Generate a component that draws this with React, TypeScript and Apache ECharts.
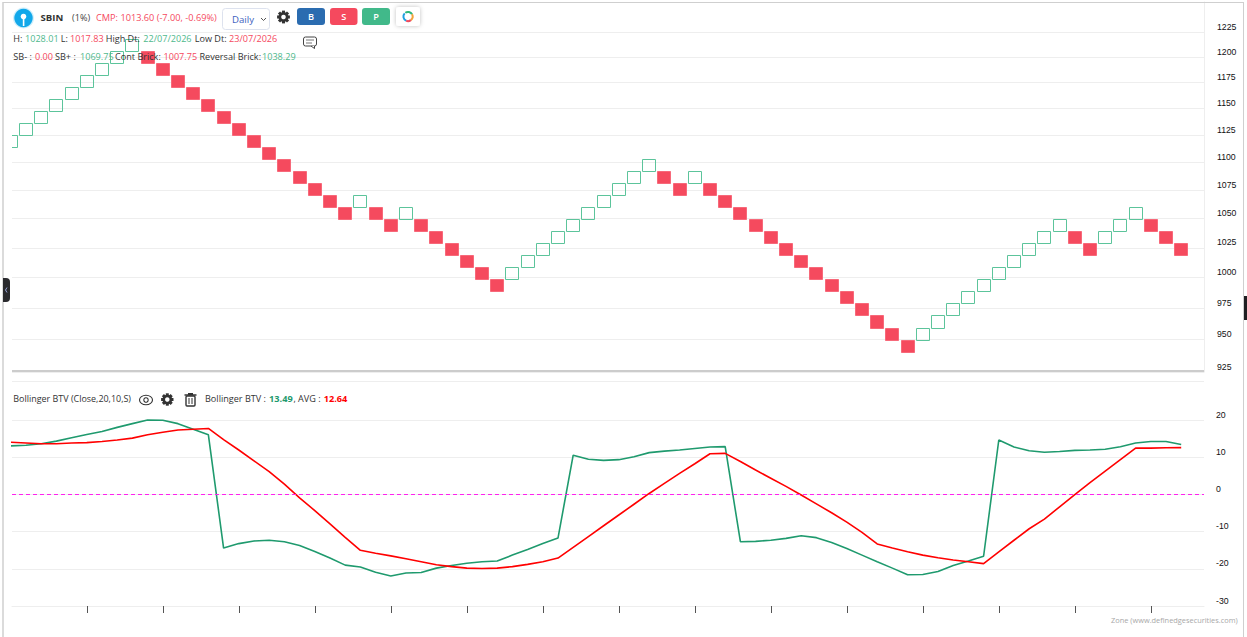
import React, { useEffect, useRef } from "react";
import * as echarts from "echarts";

// Renko bricks: lower and upper price of each brick, and direction (1 = up, 0 = down)
const brickLow = [
  1113.18, 1124.32, 1135.56, 1146.92, 1158.39, 1169.97, 1181.67, 1193.49, 1205.42, 1193.49,
  1181.67, 1169.97, 1158.39, 1146.92, 1135.56, 1124.32, 1113.18, 1102.16, 1091.25, 1080.45,
  1069.75, 1059.16, 1048.67, 1059.16, 1048.67, 1038.29, 1048.67, 1038.29, 1028.01, 1017.83,
  1007.75, 997.77, 987.9, 997.77, 1007.75, 1017.83, 1028.01, 1038.29, 1048.67, 1059.16,
  1069.75, 1080.45, 1091.25, 1080.45, 1069.75, 1080.45, 1069.75, 1059.16, 1048.67, 1038.29,
  1028.01, 1017.83, 1007.75, 997.77, 987.9, 978.11, 968.43, 958.84, 949.35, 939.95,
  949.35, 958.84, 968.43, 978.11, 987.9, 997.77, 1007.75, 1017.83, 1028.01, 1038.29,
  1028.01, 1017.83, 1028.01, 1038.29, 1048.67, 1038.29, 1028.01, 1017.83,
];
const brickHigh = [
  1124.32, 1135.56, 1146.92, 1158.39, 1169.97, 1181.67, 1193.49, 1205.42, 1217.48, 1205.42,
  1193.49, 1181.67, 1169.97, 1158.39, 1146.92, 1135.56, 1124.32, 1113.18, 1102.16, 1091.25,
  1080.45, 1069.75, 1059.16, 1069.75, 1059.16, 1048.67, 1059.16, 1048.67, 1038.29, 1028.01,
  1017.83, 1007.75, 997.77, 1007.75, 1017.83, 1028.01, 1038.29, 1048.67, 1059.16, 1069.75,
  1080.45, 1091.25, 1102.16, 1091.25, 1080.45, 1091.25, 1080.45, 1069.75, 1059.16, 1048.67,
  1038.29, 1028.01, 1017.83, 1007.75, 997.77, 987.9, 978.11, 968.43, 958.84, 949.35,
  958.84, 968.43, 978.11, 987.9, 997.77, 1007.75, 1017.83, 1028.01, 1038.29, 1048.67,
  1038.29, 1028.01, 1038.29, 1048.67, 1059.16, 1048.67, 1038.29, 1028.01,
];
const brickUp = [
  1, 1, 1, 1, 1, 1, 1, 1, 1, 0, 0, 0, 0, 0, 0, 0, 0, 0, 0, 0, 0, 0, 0, 1, 0, 0, 1, 0, 0, 0,
  0, 0, 0, 1, 1, 1, 1, 1, 1, 1, 1, 1, 1, 0, 0, 1, 0, 0, 0, 0, 0, 0, 0, 0, 0, 0, 0, 0, 0, 0,
  1, 1, 1, 1, 1, 1, 1, 1, 1, 1, 0, 0, 1, 1, 1, 0, 0, 0,
];

// Bollinger BTV and its average, one value per brick
const btv = [
  13.1, 13.3, 13.7, 14.4, 15.3, 16.2, 17.0, 18.1, 19.1, 20.1, 20.0, 19.1, 17.6, 16.1, -14.4, -13.2, -12.5, -12.3, -12.7, -13.7,
  -15.3, -17.1, -19.0, -19.5, -20.9, -21.9, -21.1, -21.0, -19.8, -19.1, -18.5, -18.1, -17.9, -16.3, -14.8, -13.2, -11.7, 10.6, 9.5, 9.2,
  9.4, 10.2, 11.3, 11.7, 12.0, 12.4, 12.8, 12.9, -12.7, -12.6, -12.3, -11.8, -11.1, -11.6, -12.9, -14.5, -16.3, -18.1, -19.8, -21.6,
  -21.5, -20.7, -19.1, -17.9, -16.6, 14.7, 12.8, 11.8, 11.4, 11.6, 11.9, 12.0, 12.2, 12.9, 13.9, 14.3, 14.3, 13.49,
];
const btvAvg = [
  14.1, 13.9, 13.7, 13.7, 13.9, 14.0, 14.3, 14.7, 15.2, 16.1, 16.8, 17.4, 17.6, 17.8, 14.8, 12.0, 9.1, 6.2, 2.8, -0.9,
  -4.3, -7.9, -11.5, -15.0, -15.8, -16.5, -17.3, -18.1, -18.9, -19.4, -19.8, -19.9, -19.8, -19.4, -18.8, -18.1, -17.1, -14.2, -11.3, -8.4,
  -5.5, -2.6, 0.3, 3.0, 5.7, 8.3, 11.0, 11.1, 8.9, 6.6, 4.4, 2.2, -0.1, -2.5, -4.9, -7.4, -10.2, -13.3, -14.4, -15.4,
  -16.3, -17.0, -17.6, -18.1, -18.6, -15.4, -12.3, -9.2, -6.6, -3.3, 0.0, 3.2, 6.3, 9.4, 12.5, 12.5, 12.6, 12.64,
];

const priceTicks = [925, 950, 975, 1000, 1025, 1050, 1075, 1100, 1125, 1150, 1175, 1200, 1225];
const btvTicks = [-30, -20, -10, 0, 10, 20];
const btvGrid = [-30, -20, -10, 0, 10, 20, 30.5];
const timeTicks = [5, 10, 15, 20, 25, 30, 35, 40, 45, 50, 55, 60, 65, 70, 75];
const referenceLevel = 0;

const UI_FONT = "'Open Sans', sans-serif";
const GREEN = "#4fb98d";
const RED = "#f5495e";
const INK = "#333333";

function txt(text: string, x: number, y: number, fill = INK, fontSize = 9.1, fontWeight: any = 400, align = "left") {
  return {
    type: "text",
    x,
    y,
    z: 100,
    silent: true,
    style: { text, fill, fontSize, fontWeight, fontFamily: UI_FONT, verticalAlign: "middle", align },
  };
}

function gear(cx: number, cy: number, r: number, fill = "#333333") {
  const teeth: any[] = [];
  for (let i = 0; i < 8; i++) {
    teeth.push({
      type: "rect",
      rotation: (i * Math.PI) / 4,
      shape: { x: -r * 0.24, y: -r, width: r * 0.48, height: r * 0.45 },
      style: { fill },
    });
  }
  return {
    type: "group",
    x: cx,
    y: cy,
    z: 100,
    silent: true,
    children: [
      { type: "ring", shape: { cx: 0, cy: 0, r: r * 0.78, r0: r * 0.36 }, style: { fill } },
      ...teeth,
    ],
  };
}

function buildGraphics() {
  const g: any[] = [];
  const s = (type: string, shape: any, style: any, extra: any = {}) => ({ type, shape, style, z: 100, silent: true, ...extra });

  // frame
  g.push(s("line", { x1: 3, y1: 2.5, x2: 1243, y2: 2.5 }, { stroke: "#cfcfcf", lineWidth: 1 }));
  g.push(s("line", { x1: 3, y1: 2, x2: 3, y2: 637 }, { stroke: "#cfcfcf", lineWidth: 1.5 }));
  g.push(s("line", { x1: 1243.5, y1: 2, x2: 1243.5, y2: 637 }, { stroke: "#cfcfcf", lineWidth: 1 }));
  g.push(s("rect", { x: 3, y: 278, width: 7, height: 24, r: [0, 4, 4, 0] }, { fill: "#2a2a2e" }));
  g.push(s("polyline", { points: [[7, 287.5], [5.5, 290], [7, 292.5]] }, { stroke: "#9aa5d8", lineWidth: 1, fill: "none" }));
  g.push(s("rect", { x: 1244, y: 296, width: 3, height: 24 }, { fill: "#1f1f22" }));
  // divider between the two panes
  g.push(s("line", { x1: 12, y1: 371, x2: 1204, y2: 371 }, { stroke: "#cccccc", lineWidth: 2 }));

  // logo
  g.push(s("circle", { cx: 23.5, cy: 18, r: 10.5 }, { fill: "#cdeefb" }));
  g.push(s("circle", { cx: 23.5, cy: 18, r: 9.2 }, { fill: "#12a8ea" }));
  g.push(s("circle", { cx: 23.5, cy: 16.5, r: 2.8 }, { fill: "#ffffff" }));
  g.push(s("rect", { x: 22.8, y: 17, width: 1.6, height: 9 }, { fill: "#ffffff" }));

  g.push(txt("SBIN", 40.5, 17.5, "#333333", 9.6, 700));
  g.push(txt("(1%)", 72, 17, "#444444"));
  g.push(txt("CMP: 1013.60 (-7.00, -0.69%)", 96, 17, RED, 9.2));

  // period selector
  g.push(s("rect", { x: 222.5, y: 8.5, width: 47, height: 21, r: 3 }, { fill: "#ffffff", stroke: "#dde2ee", lineWidth: 1 }));
  g.push(txt("Daily", 232, 19.5, "#3e5fc0", 9.6));
  g.push(s("polyline", { points: [[261, 18], [263.5, 20.5], [266, 18]] }, { stroke: "#555555", lineWidth: 1, fill: "none" }));
  g.push(gear(283.5, 17, 6.4));

  // action buttons
  g.push(s("rect", { x: 297, y: 8, width: 28, height: 17, r: 3 }, { fill: "#2b6cb0" }));
  g.push(s("rect", { x: 330, y: 8, width: 27.5, height: 17, r: 3 }, { fill: RED }));
  g.push(s("rect", { x: 362, y: 8, width: 28, height: 17, r: 3 }, { fill: "#41b98a" }));
  g.push(txt("B", 311, 16.5, "#ffffff", 9.2, 600, "center"));
  g.push(txt("S", 343.7, 16.5, "#ffffff", 9.2, 600, "center"));
  g.push(txt("P", 376, 16.5, "#ffffff", 9.2, 600, "center"));
  g.push(
    s("rect", { x: 396, y: 7, width: 24, height: 19, r: 3 }, { fill: "#ffffff", shadowBlur: 4, shadowColor: "rgba(0,0,0,0.25)" })
  );
  const ring: [number, number, string][] = [
    [-2.2, -0.5, "#2fb67c"],
    [-0.5, 0.9, "#f2a33a"],
    [0.9, 2.0, "#ef4b5e"],
    [2.0, 3.9, "#1e9fe0"],
  ];
  ring.forEach(([a, b, c]) =>
    g.push(s("arc", { cx: 408, cy: 16.5, r: 4.6, startAngle: a, endAngle: b }, { stroke: c, lineWidth: 2, fill: "none" }))
  );

  // price summary rows
  const row1: [string, number, string][] = [
    ["H:", 13.3, INK], ["1028.01", 25, GREEN], ["L:", 60.7, INK], ["1017.83", 70, RED],
    ["High Dt:", 105.7, INK], ["22/07/2026", 143.3, GREEN], ["Low Dt:", 194.7, INK], ["23/07/2026", 229, RED],
  ];
  row1.forEach(([t, x, c]) => g.push(txt(t, x, 38, c)));
  const row2: [string, number, string][] = [
    ["SB- :", 13.3, INK], ["0.00", 35, RED], ["SB+ :", 55, INK], ["1069.75", 80, GREEN],
    ["Cont Brick:", 115, INK], ["1007.75", 163.5, RED], ["Reversal Brick:", 199.5, INK], ["1038.29", 262, GREEN],
  ];
  row2.forEach(([t, x, c]) => g.push(txt(t, x, 56.5, c)));

  // comment icon
  g.push(s("rect", { x: 303.5, y: 37, width: 13, height: 9, r: 2 }, { fill: "#ffffff", stroke: "#444444", lineWidth: 1 }));
  g.push(s("polyline", { points: [[311, 46], [314.5, 48.5], [314.5, 46]] }, { stroke: "#444444", lineWidth: 1, fill: "#ffffff" }));
  g.push(s("line", { x1: 306, y1: 40, x2: 314, y2: 40 }, { stroke: "#777777", lineWidth: 1 }));
  g.push(s("line", { x1: 306, y1: 43, x2: 312, y2: 43 }, { stroke: "#777777", lineWidth: 1 }));

  // indicator header
  g.push(txt("Bollinger BTV (Close,20,10,S)", 13.3, 398.5, INK, 8.95));
  g.push(s("ellipse", { cx: 146, cy: 400, rx: 6.5, ry: 4.8 }, { fill: "#ffffff", stroke: "#333333", lineWidth: 1.1 }));
  g.push(s("circle", { cx: 146, cy: 400, r: 2.2 }, { fill: "#ffffff", stroke: "#333333", lineWidth: 1.1 }));
  g.push(gear(167.3, 399.5, 6.2));
  g.push(s("rect", { x: 186, y: 396, width: 9, height: 10, r: 1 }, { fill: "#ffffff", stroke: "#333333", lineWidth: 1.4 }));
  g.push(s("line", { x1: 184.5, y1: 395, x2: 196.5, y2: 395 }, { stroke: "#333333", lineWidth: 1.5 }));
  g.push(s("rect", { x: 188, y: 393, width: 5, height: 2 }, { fill: "#333333" }));
  g.push(s("line", { x1: 189, y1: 398, x2: 189, y2: 404 }, { stroke: "#333333", lineWidth: 1 }));
  g.push(s("line", { x1: 192, y1: 398, x2: 192, y2: 404 }, { stroke: "#333333", lineWidth: 1 }));
  g.push(txt("Bollinger BTV :", 205, 398.5));
  g.push(txt("13.49", 269, 398.5, "#1f9a6e", 9.2, 700));
  g.push(txt(",", 293.5, 398.5));
  g.push(txt("AVG :", 298, 398.5));
  g.push(txt("12.64", 323.7, 398.5, "#ff0000", 9.2, 700));

  g.push(txt("Zone (www.definedgesecurities.com)", 1111, 619.5, "#a8a8a8", 7.4));
  return g;
}

function renderBrick(params: any, api: any) {
  const i = api.value(0);
  const up = api.value(3) === 1;
  const top = api.coord([i, api.value(2)]);
  const bottom = api.coord([i, api.value(1)]);
  const band = api.size([1, 0])[0];
  const half = band * 0.465;
  const x0 = Math.round(top[0] - half) + 0.5;
  const x1 = Math.round(top[0] + half) - 0.5;
  const y0 = Math.round(top[1]) - 0.5;
  const y1 = Math.round(bottom[1]) - 0.5;
  return {
    type: "rect",
    shape: { x: x0, y: y0, width: x1 - x0, height: y1 - y0 },
    style: up
      ? { fill: "none", stroke: "#5cc49b", lineWidth: 1 }
      : { fill: "#f54a5e", stroke: "#f7697a", lineWidth: 1 },
  };
}

export default function App() {
  const ref = useRef<HTMLDivElement>(null);
  useEffect(() => {
    const chart = echarts.init(ref.current!, null, { renderer: "svg" });
    const xIndex = brickLow.map((_, i) => i);
    const axisFont = { fontFamily: "'Liberation Sans', Arial, sans-serif", fontSize: 8.7, color: "#111111" };
    chart.setOption({
      animation: false,
      backgroundColor: "#ffffff",
      grid: [
        { left: 12, width: 1192, top: 2, height: 370 },
        { left: 12, width: 1192, top: 381.3, height: 224.7 },
      ],
      xAxis: [
        {
          type: "value",
          gridIndex: 0,
          min: 0.08,
          max: 78.5,
          axisLine: { show: false },
          axisTick: { show: false },
          axisLabel: { show: false },
          splitLine: { show: false },
        },
        {
          type: "value",
          gridIndex: 1,
          min: 0.08,
          max: 78.5,
          axisLine: { show: true, onZero: false, lineStyle: { color: "#eeeeee" } },
          axisTick: { show: true, length: 7, customValues: timeTicks, lineStyle: { color: "#555555" } },
          axisLabel: { show: false },
          splitLine: { show: false },
        },
      ],
      yAxis: [
        {
          type: "log",
          gridIndex: 0,
          position: "right",
          min: 925,
          max: 1255.8,
          axisLine: { show: true, lineStyle: { color: "#eeeeee" } },
          axisTick: { show: false, customValues: priceTicks },
          axisLabel: {
            ...axisFont,
            customValues: priceTicks,
            margin: 13,
            verticalAlign: "bottom",
            padding: [0, 0, 1, 0],
            formatter: (v: number) => String(Math.round(v)),
          },
          splitLine: { show: true, lineStyle: { color: "#eeeeee" } },
        },
        {
          type: "value",
          gridIndex: 1,
          position: "right",
          min: -30,
          max: 30.5,
          axisLine: { show: false },
          axisTick: { show: false, customValues: btvGrid },
          axisLabel: { ...axisFont, customValues: btvTicks, margin: 12, verticalAlign: "bottom", padding: [0, 0, 1, 0] },
          splitLine: { show: true, lineStyle: { color: "#eeeeee" } },
        },
      ],
      series: [
        {
          name: "Renko",
          type: "custom",
          xAxisIndex: 0,
          yAxisIndex: 0,
          clip: true,
          renderItem: renderBrick,
          encode: { x: 0, y: [1, 2] },
          data: xIndex.map((i) => [i, brickLow[i], brickHigh[i], brickUp[i]]),
        },
        {
          name: "Bollinger BTV",
          type: "line",
          xAxisIndex: 1,
          yAxisIndex: 1,
          symbol: "none",
          lineStyle: { color: "#1f9a6e", width: 1.6 },
          data: xIndex.map((i) => [i, btv[i]]),
          clip: true,
        },
        {
          name: "AVG",
          type: "line",
          xAxisIndex: 1,
          yAxisIndex: 1,
          symbol: "none",
          z: 3,
          lineStyle: { color: "#ff0000", width: 1.6 },
          data: xIndex.map((i) => [i, btvAvg[i]]),
          clip: true,
          markLine: {
            silent: true,
            symbol: "none",
            label: { show: false },
            lineStyle: { color: "#ff22ee", type: [4, 3], width: 1 },
            data: [{ yAxis: referenceLevel }],
          },
        },
      ],
      graphic: buildGraphics(),
    });
    return () => chart.dispose();
  }, []);
  return <div ref={ref} style={{ position: "fixed", left: 0, top: 0, width: 1247, height: 637 }} />;
}
